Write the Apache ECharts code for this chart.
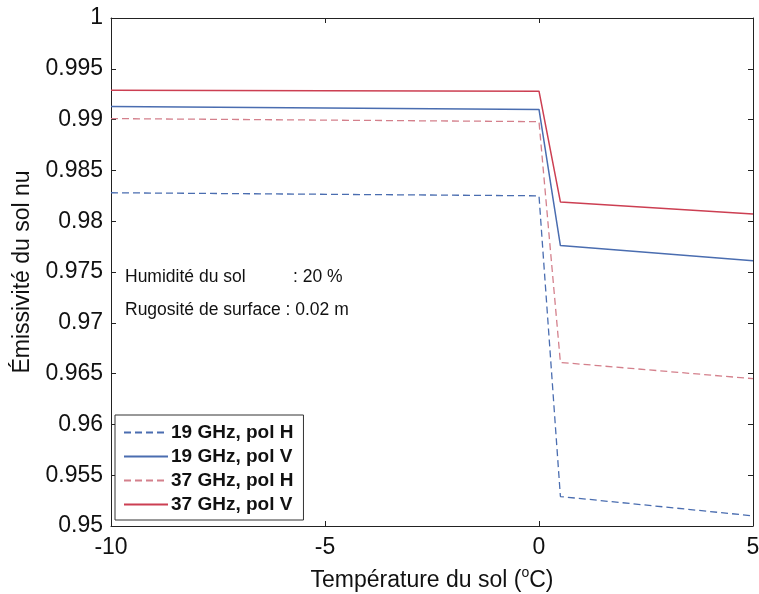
<!DOCTYPE html>
<html><head><meta charset="utf-8">
<script src="https://cdn.jsdelivr.net/npm/echarts@6/dist/echarts.min.js"></script>
<style>html,body{margin:0;padding:0;background:#fff}#c{width:759px;height:594px}</style>
</head><body><div id="c"></div>
<script>
const xTemp = [-10, 0, 0.5, 5];
const e19H = [0.9828, 0.9825, 0.9529, 0.9510];
const e19V = [0.9913, 0.9910, 0.9776, 0.9761];
const e37H = [0.9901, 0.9898, 0.9661, 0.9645];
const e37V = [0.9929, 0.9928, 0.9819, 0.9807];
const seriesNames = ['19 GHz, pol H', '19 GHz, pol V', '37 GHz, pol H', '37 GHz, pol V'];
const yTicks = [0.95, 0.955, 0.96, 0.965, 0.97, 0.975, 0.98, 0.985, 0.99, 0.995, 1];
const xTicks = [-10, -5, 0, 5];

const pairs = v => xTemp.map((x, i) => [x, v[i]]);
const blue = '#4a6db0', red = '#cc3f52', redL = '#d4808c', blueD = '#4a6db0';
const font = 'Liberation Sans, Arial, sans-serif';

const chart = echarts.init(document.getElementById('c'));
const axisCommon = () => ({
  axisLine: {show: true, onZero: false, lineStyle: {color: '#222', width: 1}},
  axisTick: {show: true, inside: true, length: 5, lineStyle: {color: '#222'}},
  splitLine: {show: false}
});
chart.setOption({
  animation: false,
  backgroundColor: '#fff',
  grid: {left: 111, top: 18, right: 6, bottom: 68, containLabel: false, outerBoundsMode: 'none'},
  xAxis: [
    Object.assign({type: 'value', min: -10, max: 5, interval: 5,
      name: '{a|Température du sol (}{s|o}{a|C)}', nameLocation: 'middle', nameGap: 40,
      nameTextStyle: {rich: {a: {fontSize: 23, fontFamily: font, color: '#111', lineHeight: 30}, s: {fontSize: 14, fontFamily: font, color: '#111', lineHeight: 30, verticalAlign: 'top'}}},
      axisLabel: {fontSize: 23, fontFamily: font, color: '#111', margin: 10}}, axisCommon()),
    Object.assign({type: 'value', min: -10, max: 5, interval: 5, position: 'top', axisLabel: {show: false}}, axisCommon())
  ],
  yAxis: [
    Object.assign({type: 'value', min: 0.95, max: 1, interval: 0.005,
      name: 'Émissivité du sol nu', nameLocation: 'middle', nameGap: 67,
      nameTextStyle: {fontSize: 23, fontFamily: font, color: '#111'},
      axisLabel: {fontSize: 23, fontFamily: font, color: '#111', margin: 8,
        formatter: v => (+v.toFixed(3)).toString()}}, axisCommon()),
    Object.assign({type: 'value', min: 0.95, max: 1, interval: 0.005, position: 'right', axisLabel: {show: false}}, axisCommon())
  ],
  legend: {
    show: true, orient: 'vertical', left: 115, top: 415,
    backgroundColor: '#fff', borderColor: '#333', borderWidth: 1,
    padding: [8, 10, 6, 8], itemGap: 5, itemWidth: 44, itemHeight: 20,
    itemStyle: {opacity: 0},
    textStyle: {fontSize: 19, fontFamily: font, color: '#111', fontWeight: 'bold', padding: [0, 0, 0, -2]},
    data: seriesNames
  },
  graphic: [
    {type: 'text', left: 125, top: 268, style: {text: 'Humidité du sol', fontSize: 17.5, fontFamily: font, fill: '#111'}},
    {type: 'text', left: 293, top: 268, style: {text: ': 20 %', fontSize: 17.5, fontFamily: font, fill: '#111'}},
    {type: 'text', left: 125, top: 301, style: {text: 'Rugosité de surface : 0.02 m', fontSize: 17.5, fontFamily: font, fill: '#111'}}
  ],
  series: [
    {name: seriesNames[0], type: 'line', data: pairs(e19H), showSymbol: false, symbol: 'none', lineStyle: {color: blueD, width: 1.3, type: [7, 4]}, itemStyle: {color: blueD}},
    {name: seriesNames[1], type: 'line', data: pairs(e19V), showSymbol: false, symbol: 'none', lineStyle: {color: blue, width: 1.5}, itemStyle: {color: blue}},
    {name: seriesNames[2], type: 'line', data: pairs(e37H), showSymbol: false, symbol: 'none', lineStyle: {color: redL, width: 1.3, type: [7, 4]}, itemStyle: {color: redL}},
    {name: seriesNames[3], type: 'line', data: pairs(e37V), showSymbol: false, symbol: 'none', lineStyle: {color: red, width: 1.5}, itemStyle: {color: red}}
  ]
});
</script></body></html>
